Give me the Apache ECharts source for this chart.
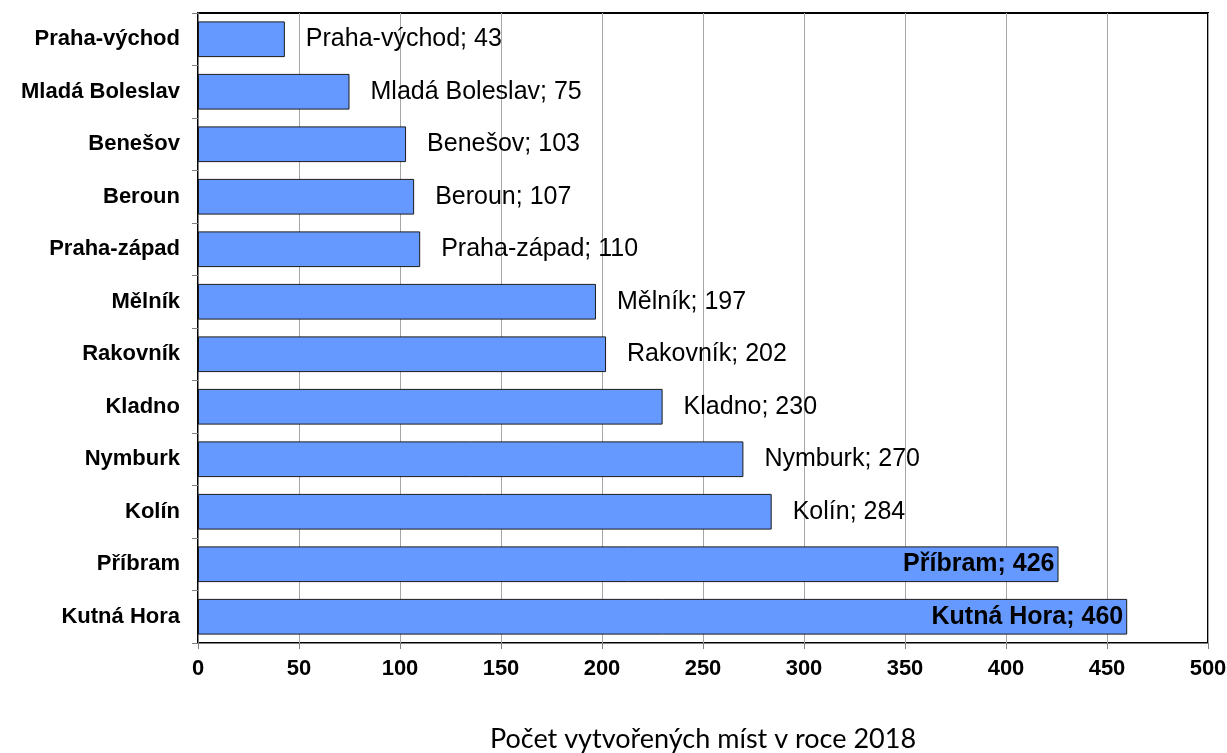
<!DOCTYPE html>
<html>
<head>
<meta charset="utf-8">
<script src="https://cdn.jsdelivr.net/npm/echarts@6/dist/echarts.min.js"></script>
<style>
  html, body { margin: 0; padding: 0; background: #fff; }
  #chart { width: 1227px; height: 753px; }
</style>
</head>
<body>
<div id="chart"></div>
<script>
// Districts of the Central Bohemian Region, top to bottom
const districts = ['Praha-východ', 'Mladá Boleslav', 'Benešov', 'Beroun', 'Praha-západ', 'Mělník',
  'Rakovník', 'Kladno', 'Nymburk', 'Kolín', 'Příbram', 'Kutná Hora'];
// Jobs created in 2018
const jobsCreated = [43, 75, 103, 107, 110, 197, 202, 230, 270, 284, 426, 460];
// Bars whose label sits inside the bar
const insideLabelLimit = 400;

const chart = echarts.init(document.getElementById('chart'));

const seriesData = jobsCreated.map(function (v) {
  const inside = v > insideLabelLimit;
  return {
    value: v,
    label: inside
      ? { position: 'insideRight', distance: 4, fontWeight: 'bold' }
      : { position: 'right', distance: 21, fontWeight: 'normal' }
  };
});

chart.setOption({
  animation: false,
  grid: {
    left: 198, right: 19, top: 13, bottom: 110,
    outerBoundsMode: 'none',
    containLabel: false,
    show: true, borderColor: '#000', borderWidth: 2, backgroundColor: '#fff'
  },
  xAxis: {
    type: 'value',
    min: 0, max: 500, interval: 50,
    name: 'Počet vytvořených míst v roce 2018',
    nameLocation: 'middle',
    nameGap: 83,
    nameTextStyle: { fontFamily: 'Lato', fontSize: 27, color: '#000' },
    axisLine: { show: true, lineStyle: { color: '#808080', width: 1 } },
    axisTick: { show: true, length: 6, lineStyle: { color: '#808080' } },
    axisLabel: { fontFamily: 'Liberation Sans', fontWeight: 'bold', fontSize: 22, color: '#000', margin: 15 },
    splitLine: { show: true, lineStyle: { color: '#a6a6a6', width: 1 } }
  },
  yAxis: {
    type: 'category',
    inverse: true,
    data: districts,
    axisLine: { show: true, lineStyle: { color: '#808080', width: 1 } },
    axisTick: { show: true, length: 6, alignWithLabel: false, lineStyle: { color: '#808080' } },
    axisLabel: { fontFamily: 'Liberation Sans', fontWeight: 'bold', fontSize: 22, color: '#000', margin: 18 }
  },
  series: [{
    type: 'bar',
    data: seriesData,
    barCategoryGap: '32%',
    itemStyle: { color: '#6699ff', borderColor: '#1a1a1a', borderWidth: 1 },
    label: {
      show: true,
      formatter: '{b}; {c}',
      fontFamily: 'Liberation Sans',
      fontSize: 25,
      color: '#000'
    }
  }]
});
</script>
</body>
</html>
